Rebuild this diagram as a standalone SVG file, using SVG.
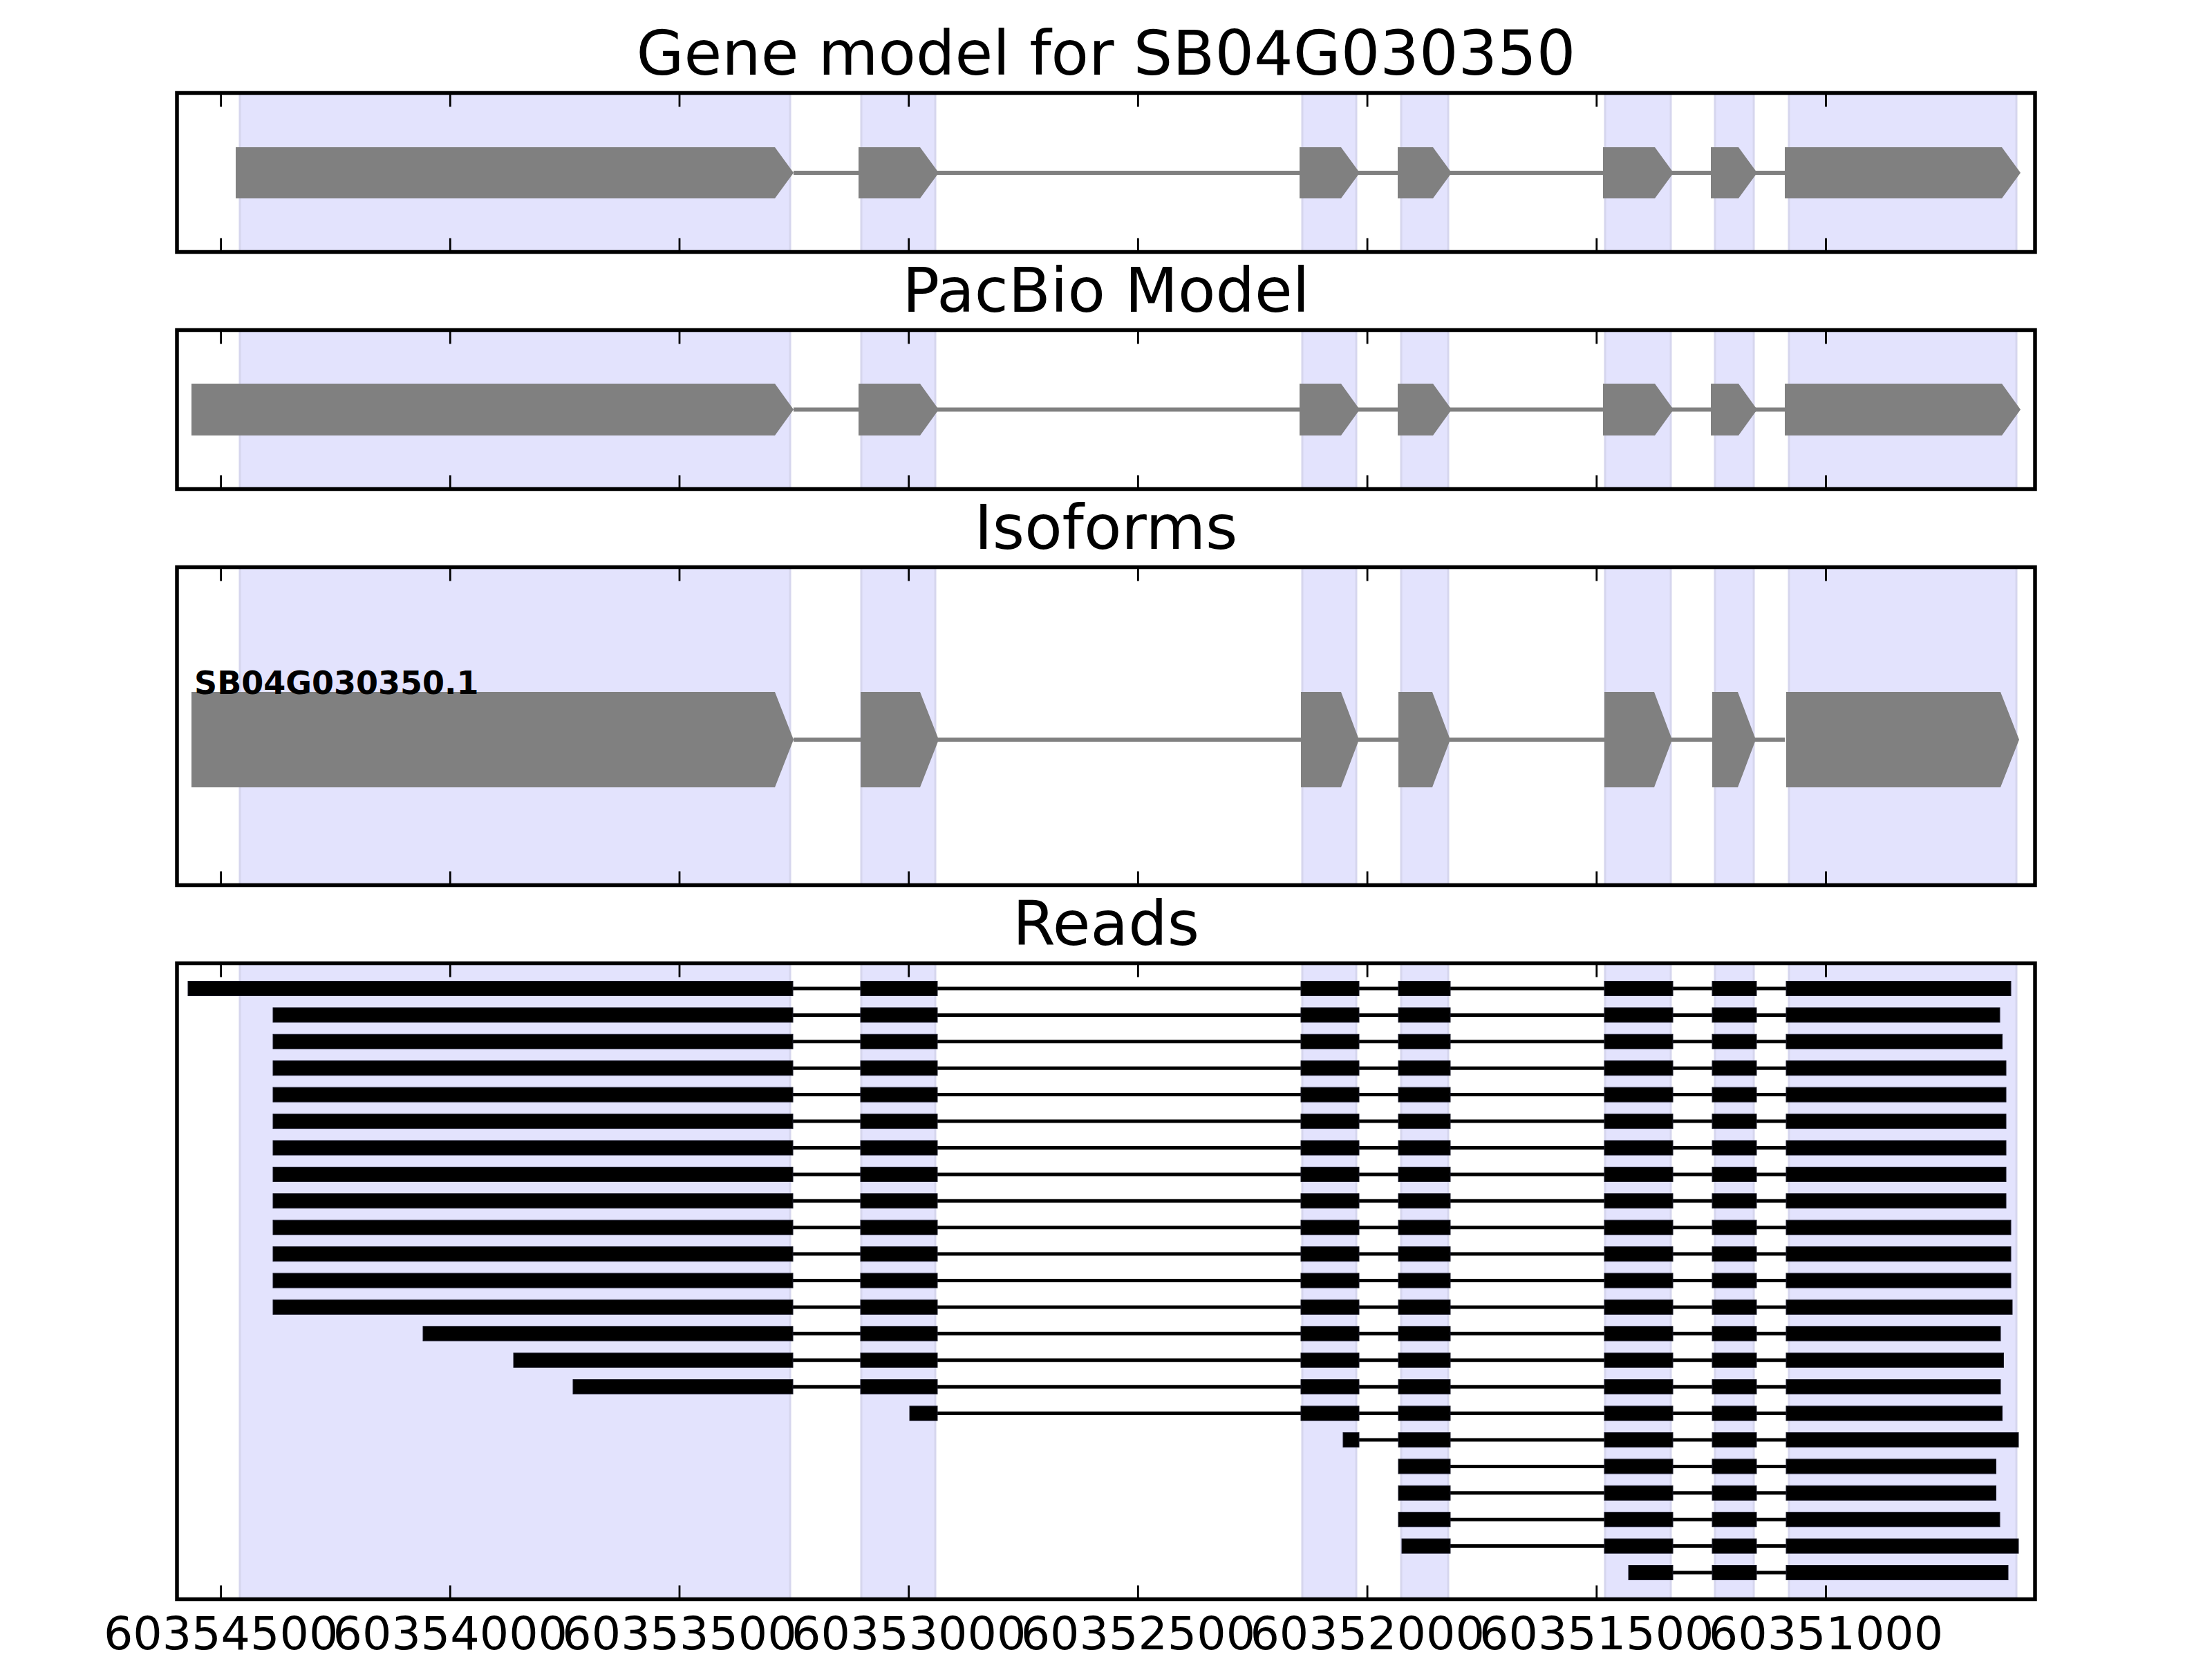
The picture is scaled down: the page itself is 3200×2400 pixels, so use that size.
<svg xmlns="http://www.w3.org/2000/svg" xmlns:xlink="http://www.w3.org/1999/xlink" width="3200" height="2400" viewBox="0 0 3200 2400">
<style>
  .bg{fill:#ffffff}
  .shade{fill:#e3e3fd;stroke:#d6d6ee;stroke-width:3}
  .frame{fill:none;stroke:#000000;stroke-width:5.5}
  .tick{stroke:#000000;stroke-width:2.8}
  .title{font-family:"DejaVu Sans","Liberation Sans",sans-serif;font-size:89px;fill:#000000;text-anchor:middle}
  .tl{font-family:"DejaVu Sans","Liberation Sans",sans-serif;font-size:66.7px;fill:#000000;text-anchor:middle}
  .iso{font-family:"DejaVu Sans","Liberation Sans",sans-serif;font-size:46px;font-weight:bold;fill:#000000}
  .exon{fill:#808080}
  .gintron{stroke:#808080;stroke-width:6;fill:none}
  .rb{fill:#000000;stroke:#1c1c2c;stroke-width:1}
  .ri{stroke:#000000;stroke-width:5;fill:none}
</style>
<defs>
  <g id="topticks">
    <line class="tick" x1="319.6" y1="0" x2="319.6" y2="20"/>
    <line class="tick" x1="651.3" y1="0" x2="651.3" y2="20"/>
    <line class="tick" x1="983" y1="0" x2="983" y2="20"/>
    <line class="tick" x1="1314.7" y1="0" x2="1314.7" y2="20"/>
    <line class="tick" x1="1646.4" y1="0" x2="1646.4" y2="20"/>
    <line class="tick" x1="1978.1" y1="0" x2="1978.1" y2="20"/>
    <line class="tick" x1="2309.8" y1="0" x2="2309.8" y2="20"/>
    <line class="tick" x1="2641.5" y1="0" x2="2641.5" y2="20"/>
  </g>
  <g id="botticks">
    <line class="tick" x1="319.6" y1="-20" x2="319.6" y2="0"/>
    <line class="tick" x1="651.3" y1="-20" x2="651.3" y2="0"/>
    <line class="tick" x1="983" y1="-20" x2="983" y2="0"/>
    <line class="tick" x1="1314.7" y1="-20" x2="1314.7" y2="0"/>
    <line class="tick" x1="1646.4" y1="-20" x2="1646.4" y2="0"/>
    <line class="tick" x1="1978.1" y1="-20" x2="1978.1" y2="0"/>
    <line class="tick" x1="2309.8" y1="-20" x2="2309.8" y2="0"/>
    <line class="tick" x1="2641.5" y1="-20" x2="2641.5" y2="0"/>
  </g>
  <g id="rmid">
    <line class="ri" x1="1147" y1="0" x2="2584" y2="0"/>
    <rect class="rb" x="1245" y="-10.5" width="111" height="21"/>
    <rect class="rb" x="1882" y="-10.5" width="84" height="21"/>
    <rect class="rb" x="2023" y="-10.5" width="75" height="21"/>
    <rect class="rb" x="2321" y="-10.5" width="99" height="21"/>
    <rect class="rb" x="2477" y="-10.5" width="64" height="21"/>
  </g>
  <g id="rtail">
    <line class="ri" x1="2023" y1="0" x2="2584" y2="0"/>
    <rect class="rb" x="2023" y="-10.5" width="75" height="21"/>
    <rect class="rb" x="2321" y="-10.5" width="99" height="21"/>
    <rect class="rb" x="2477" y="-10.5" width="64" height="21"/>
  </g>
</defs>
<rect class="bg" x="0" y="0" width="3200" height="2400"/>

<g id="panel-gene-model">
  <text class="title" x="1600" y="108">Gene model for SB04G030350</text>
  <g id="p1-shading">
    <rect class="shade" x="347" y="134.5" width="796" height="230"/>
    <rect class="shade" x="1246" y="134.5" width="107" height="230"/>
    <rect class="shade" x="1884" y="134.5" width="78" height="230"/>
    <rect class="shade" x="2027" y="134.5" width="68" height="230"/>
    <rect class="shade" x="2322" y="134.5" width="95" height="230"/>
    <rect class="shade" x="2481" y="134.5" width="56" height="230"/>
    <rect class="shade" x="2588" y="134.5" width="329" height="230"/>
  </g>
  <g id="p1-connectors">
    <line class="gintron" x1="1148" y1="250" x2="2582" y2="250"/>
  </g>
  <g id="p1-exons">
    <polygon class="exon" points="341,213 1121,213 1148,250 1121,287 341,287"/>
    <polygon class="exon" points="1242,213 1331,213 1358,250 1331,287 1242,287"/>
    <polygon class="exon" points="1880,213 1940,213 1967,250 1940,287 1880,287"/>
    <polygon class="exon" points="2022,213 2073,213 2100,250 2073,287 2022,287"/>
    <polygon class="exon" points="2319,213 2394,213 2421,250 2394,287 2319,287"/>
    <polygon class="exon" points="2475,213 2515,213 2542,250 2515,287 2475,287"/>
    <polygon class="exon" points="2582,213 2896,213 2923,250 2896,287 2582,287"/>
  </g>
  <use xlink:href="#topticks" href="#topticks" y="134.5"/>
  <use xlink:href="#botticks" href="#botticks" y="364.5"/>
  <rect class="frame" x="256" y="134.5" width="2688" height="230"/>
</g>

<g id="panel-pacbio-model">
  <text class="title" x="1600" y="451">PacBio Model</text>
  <g id="p2-shading">
    <rect class="shade" x="347" y="477.5" width="796" height="230"/>
    <rect class="shade" x="1246" y="477.5" width="107" height="230"/>
    <rect class="shade" x="1884" y="477.5" width="78" height="230"/>
    <rect class="shade" x="2027" y="477.5" width="68" height="230"/>
    <rect class="shade" x="2322" y="477.5" width="95" height="230"/>
    <rect class="shade" x="2481" y="477.5" width="56" height="230"/>
    <rect class="shade" x="2588" y="477.5" width="329" height="230"/>
  </g>
  <g id="p2-connectors">
    <line class="gintron" x1="1148" y1="592.5" x2="2582" y2="592.5"/>
  </g>
  <g id="p2-exons">
    <polygon class="exon" points="277,555 1121,555 1148,592.5 1121,630 277,630"/>
    <polygon class="exon" points="1242,555 1331,555 1358,592.5 1331,630 1242,630"/>
    <polygon class="exon" points="1880,555 1940,555 1967,592.5 1940,630 1880,630"/>
    <polygon class="exon" points="2022,555 2073,555 2100,592.5 2073,630 2022,630"/>
    <polygon class="exon" points="2319,555 2394,555 2421,592.5 2394,630 2319,630"/>
    <polygon class="exon" points="2475,555 2515,555 2542,592.5 2515,630 2475,630"/>
    <polygon class="exon" points="2582,555 2896,555 2923,592.5 2896,630 2582,630"/>
  </g>
  <use xlink:href="#topticks" href="#topticks" y="477.5"/>
  <use xlink:href="#botticks" href="#botticks" y="707.5"/>
  <rect class="frame" x="256" y="477.5" width="2688" height="230"/>
</g>

<g id="panel-isoforms">
  <text class="title" x="1600" y="794">Isoforms</text>
  <g id="p3-shading">
    <rect class="shade" x="347" y="820.5" width="796" height="460"/>
    <rect class="shade" x="1246" y="820.5" width="107" height="460"/>
    <rect class="shade" x="1884" y="820.5" width="78" height="460"/>
    <rect class="shade" x="2027" y="820.5" width="68" height="460"/>
    <rect class="shade" x="2322" y="820.5" width="95" height="460"/>
    <rect class="shade" x="2481" y="820.5" width="56" height="460"/>
    <rect class="shade" x="2588" y="820.5" width="329" height="460"/>
  </g>
  <g id="isoform-SB04G030350.1">
    <g id="p3-connectors">
      <line class="gintron" x1="1148" y1="1070" x2="2582" y2="1070"/>
    </g>
    <polygon class="exon" points="277,1001 1121,1001 1148,1070 1121,1139 277,1139"/>
    <polygon class="exon" points="1245,1001 1331,1001 1358,1070 1331,1139 1245,1139"/>
    <polygon class="exon" points="1882,1001 1940,1001 1966,1070 1940,1139 1882,1139"/>
    <polygon class="exon" points="2023,1001 2072,1001 2098,1070 2072,1139 2023,1139"/>
    <polygon class="exon" points="2321,1001 2393,1001 2419,1070 2393,1139 2321,1139"/>
    <polygon class="exon" points="2477,1001 2514,1001 2540,1070 2514,1139 2477,1139"/>
    <polygon class="exon" points="2584,1001 2894,1001 2921,1070 2894,1139 2584,1139"/>
    <text class="iso" x="281" y="1004">SB04G030350.1</text>
  </g>
  <use xlink:href="#topticks" href="#topticks" y="820.5"/>
  <use xlink:href="#botticks" href="#botticks" y="1280.5"/>
  <rect class="frame" x="256" y="820.5" width="2688" height="460"/>
</g>

<g id="panel-reads">
  <text class="title" x="1600" y="1367">Reads</text>
  <g id="p4-shading">
    <rect class="shade" x="347" y="1393.5" width="796" height="920"/>
    <rect class="shade" x="1246" y="1393.5" width="107" height="920"/>
    <rect class="shade" x="1884" y="1393.5" width="78" height="920"/>
    <rect class="shade" x="2027" y="1393.5" width="68" height="920"/>
    <rect class="shade" x="2322" y="1393.5" width="95" height="920"/>
    <rect class="shade" x="2481" y="1393.5" width="56" height="920"/>
    <rect class="shade" x="2588" y="1393.5" width="329" height="920"/>
  </g>
  <g id="reads">
    <g id="read-01"><use href="#rmid" xlink:href="#rmid" y="1430"/><rect class="rb" x="272" y="1419.5" width="875" height="21"/><rect class="rb" x="2584" y="1419.5" width="325" height="21"/></g>
    <g id="read-02"><use href="#rmid" xlink:href="#rmid" y="1468.4"/><rect class="rb" x="395" y="1457.9" width="752" height="21"/><rect class="rb" x="2584" y="1457.9" width="309" height="21"/></g>
    <g id="read-03"><use href="#rmid" xlink:href="#rmid" y="1506.8"/><rect class="rb" x="395" y="1496.3" width="752" height="21"/><rect class="rb" x="2584" y="1496.3" width="312.5" height="21"/></g>
    <g id="read-04"><use href="#rmid" xlink:href="#rmid" y="1545.2"/><rect class="rb" x="395" y="1534.7" width="752" height="21"/><rect class="rb" x="2584" y="1534.7" width="318" height="21"/></g>
    <g id="read-05"><use href="#rmid" xlink:href="#rmid" y="1583.6"/><rect class="rb" x="395" y="1573.1" width="752" height="21"/><rect class="rb" x="2584" y="1573.1" width="318" height="21"/></g>
    <g id="read-06"><use href="#rmid" xlink:href="#rmid" y="1622.1"/><rect class="rb" x="395" y="1611.6" width="752" height="21"/><rect class="rb" x="2584" y="1611.6" width="318" height="21"/></g>
    <g id="read-07"><use href="#rmid" xlink:href="#rmid" y="1660.5"/><rect class="rb" x="395" y="1650" width="752" height="21"/><rect class="rb" x="2584" y="1650" width="318" height="21"/></g>
    <g id="read-08"><use href="#rmid" xlink:href="#rmid" y="1698.9"/><rect class="rb" x="395" y="1688.4" width="752" height="21"/><rect class="rb" x="2584" y="1688.4" width="318" height="21"/></g>
    <g id="read-09"><use href="#rmid" xlink:href="#rmid" y="1737.3"/><rect class="rb" x="395" y="1726.8" width="752" height="21"/><rect class="rb" x="2584" y="1726.8" width="318" height="21"/></g>
    <g id="read-10"><use href="#rmid" xlink:href="#rmid" y="1775.7"/><rect class="rb" x="395" y="1765.2" width="752" height="21"/><rect class="rb" x="2584" y="1765.2" width="325" height="21"/></g>
    <g id="read-11"><use href="#rmid" xlink:href="#rmid" y="1814.1"/><rect class="rb" x="395" y="1803.6" width="752" height="21"/><rect class="rb" x="2584" y="1803.6" width="325" height="21"/></g>
    <g id="read-12"><use href="#rmid" xlink:href="#rmid" y="1852.5"/><rect class="rb" x="395" y="1842" width="752" height="21"/><rect class="rb" x="2584" y="1842" width="325" height="21"/></g>
    <g id="read-13"><use href="#rmid" xlink:href="#rmid" y="1890.9"/><rect class="rb" x="395" y="1880.4" width="752" height="21"/><rect class="rb" x="2584" y="1880.4" width="327" height="21"/></g>
    <g id="read-14"><use href="#rmid" xlink:href="#rmid" y="1929.3"/><rect class="rb" x="612" y="1918.8" width="535" height="21"/><rect class="rb" x="2584" y="1918.8" width="310" height="21"/></g>
    <g id="read-15"><use href="#rmid" xlink:href="#rmid" y="1967.7"/><rect class="rb" x="743" y="1957.2" width="404" height="21"/><rect class="rb" x="2584" y="1957.2" width="314.5" height="21"/></g>
    <g id="read-16"><use href="#rmid" xlink:href="#rmid" y="2006.2"/><rect class="rb" x="829" y="1995.7" width="318" height="21"/><rect class="rb" x="2584" y="1995.7" width="310" height="21"/></g>
    <g id="read-17">
      <line class="ri" x1="1356" y1="2044.6" x2="2023" y2="2044.6"/>
      <rect class="rb" x="1316" y="2034.1" width="40" height="21"/>
      <rect class="rb" x="1882" y="2034.1" width="84" height="21"/>
      <use href="#rtail" xlink:href="#rtail" y="2044.6"/>
      <rect class="rb" x="2584" y="2034.1" width="312.5" height="21"/>
    </g>
    <g id="read-18">
      <line class="ri" x1="1966" y1="2083" x2="2023" y2="2083"/>
      <rect class="rb" x="1943" y="2072.5" width="23" height="21"/>
      <use href="#rtail" xlink:href="#rtail" y="2083"/>
      <rect class="rb" x="2584" y="2072.5" width="336" height="21"/>
    </g>
    <g id="read-19"><use href="#rtail" xlink:href="#rtail" y="2121.4"/><rect class="rb" x="2584" y="2110.9" width="303.5" height="21"/></g>
    <g id="read-20"><use href="#rtail" xlink:href="#rtail" y="2159.8"/><rect class="rb" x="2584" y="2149.3" width="303.5" height="21"/></g>
    <g id="read-21"><use href="#rtail" xlink:href="#rtail" y="2198.2"/><rect class="rb" x="2584" y="2187.7" width="309" height="21"/></g>
    <g id="read-22">
      <line class="ri" x1="2098" y1="2236.6" x2="2584" y2="2236.6"/>
      <rect class="rb" x="2028" y="2226.1" width="70" height="21"/>
      <rect class="rb" x="2321" y="2226.1" width="99" height="21"/>
      <rect class="rb" x="2477" y="2226.1" width="64" height="21"/>
      <rect class="rb" x="2584" y="2226.1" width="336" height="21"/>
    </g>
    <g id="read-23">
      <line class="ri" x1="2420" y1="2275" x2="2584" y2="2275"/>
      <rect class="rb" x="2356" y="2264.5" width="64" height="21"/>
      <rect class="rb" x="2477" y="2264.5" width="64" height="21"/>
      <rect class="rb" x="2584" y="2264.5" width="321" height="21"/>
    </g>
  </g>
  <use xlink:href="#topticks" href="#topticks" y="1393.5"/>
  <use xlink:href="#botticks" href="#botticks" y="2313.5"/>
  <rect class="frame" x="256" y="1393.5" width="2688" height="920"/>
  <g id="x-tick-labels">
    <text class="tl" x="319.6" y="2386">60354500</text>
    <text class="tl" x="651.3" y="2386">60354000</text>
    <text class="tl" x="983" y="2386">60353500</text>
    <text class="tl" x="1314.7" y="2386">60353000</text>
    <text class="tl" x="1646.4" y="2386">60352500</text>
    <text class="tl" x="1978.1" y="2386">60352000</text>
    <text class="tl" x="2309.8" y="2386">60351500</text>
    <text class="tl" x="2641.5" y="2386">60351000</text>
  </g>
</g>
</svg>
